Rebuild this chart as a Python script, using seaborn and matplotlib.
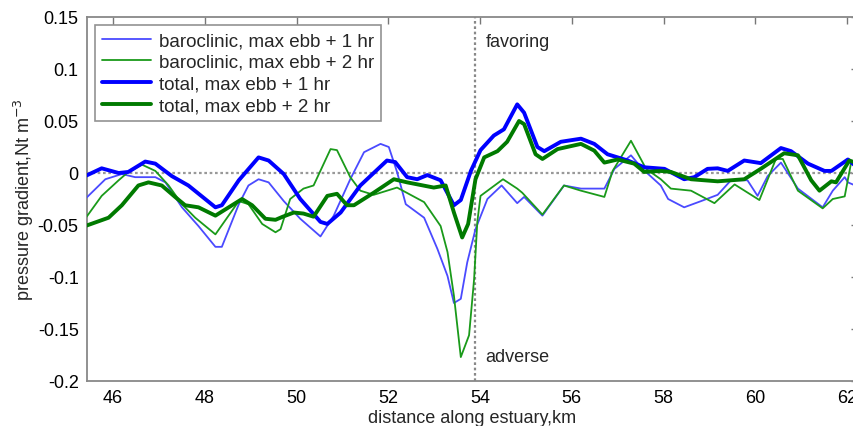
import numpy as np
import matplotlib
matplotlib.use("Agg")
import matplotlib.pyplot as plt
import seaborn as sns
import pandas as pd

# baroclinic, max ebb + 1 hr (thin blue)
bc1_x = [45.39, 45.83, 46.19, 46.48, 46.92, 47.14, 47.50, 47.86, 48.23, 48.37, 48.74, 48.95, 49.17, 49.39,
         49.72, 50.08, 50.52, 50.81, 51.17, 51.47, 51.83, 52.01, 52.19, 52.38, 52.78, 53.07, 53.29, 53.43,
         53.58, 53.72, 53.90, 54.16, 54.47, 54.81, 54.96, 55.36, 55.83, 56.20, 56.71, 56.93, 57.29, 57.54,
         57.94, 58.10, 58.45, 58.82, 59.18, 59.47, 59.83, 60.05, 60.27, 60.56, 60.93, 61.47, 61.69, 61.95,
         62.02, 62.18]
bc1_y = [-0.025, -0.006, -0.001, -0.004, -0.004, -0.009, -0.033, -0.051, -0.071, -0.071, -0.030, -0.012,
         -0.006, -0.009, -0.027, -0.044, -0.061, -0.041, -0.006, 0.020, 0.028, 0.025, 0.001, -0.030, -0.043,
         -0.073, -0.099, -0.125, -0.121, -0.086, -0.054, -0.025, -0.012, -0.029, -0.023, -0.041, -0.012,
         -0.015, -0.015, 0.004, 0.017, 0.004, -0.012, -0.025, -0.033, -0.027, -0.021, -0.007, -0.007, -0.022,
         -0.003, 0.010, -0.015, -0.033, -0.017, -0.004, -0.009, -0.012]

# baroclinic, max ebb + 2 hr (thin green)
bc2_x = [45.39, 45.75, 46.12, 46.33, 46.63, 46.92, 47.21, 47.50, 47.79, 48.23, 48.74, 48.95, 49.25, 49.54,
         49.65, 49.86, 50.15, 50.37, 50.74, 50.88, 51.17, 51.39, 51.68, 52.19, 52.78, 53.14, 53.29, 53.43,
         53.58, 53.76, 53.87, 53.94, 54.01, 54.50, 54.81, 54.92, 55.36, 55.83, 56.20, 56.71, 56.89, 57.29,
         57.62, 57.94, 58.16, 58.60, 59.11, 59.55, 60.09, 60.45, 60.60, 60.93, 61.47, 61.69, 61.95, 62.09,
         62.18]
bc2_y = [-0.044, -0.022, -0.007, 0.001, 0.008, 0.002, -0.012, -0.030, -0.043, -0.059, -0.027, -0.030,
         -0.049, -0.057, -0.054, -0.025, -0.015, -0.012, 0.023, 0.022, -0.004, -0.017, -0.021, -0.014,
         -0.028, -0.051, -0.076, -0.118, -0.177, -0.156, -0.102, -0.047, -0.022, -0.006, -0.015, -0.019,
         -0.040, -0.012, -0.017, -0.023, 0.002, 0.031, 0.004, -0.006, -0.015, -0.017, -0.029, -0.011, -0.026,
         0.0135, 0.0135, -0.017, -0.034, -0.025, -0.0225, 0.010, 0.012]

# total, max ebb + 1 hr (thick blue)
tot1_x = [45.39, 45.75, 46.12, 46.33, 46.70, 46.92, 47.28, 47.64, 48.23, 48.37, 48.74, 49.17, 49.39, 49.72,
          50.08, 50.52, 50.67, 50.96, 51.39, 51.97, 52.15, 52.41, 52.63, 52.85, 53.14, 53.43, 53.58, 53.80,
          54.01, 54.30, 54.52, 54.81, 54.96, 55.25, 55.40, 55.76, 56.20, 56.49, 56.78, 57.22, 57.58, 58.02,
          58.45, 58.67, 58.96, 59.18, 59.40, 59.76, 60.12, 60.56, 60.78, 61.15, 61.51, 61.66, 62.02, 62.18]
tot1_y = [-0.003, 0.0045, 0.000, 0.001, 0.011, 0.009, -0.003, -0.012, -0.033, -0.031, -0.007, 0.015, 0.012,
          -0.001, -0.025, -0.047, -0.049, -0.038, -0.012, 0.012, 0.0105, -0.004, -0.006, -0.002, -0.007,
          -0.031, -0.026, 0.002, 0.022, 0.036, 0.042, 0.066, 0.058, 0.025, 0.021, 0.030, 0.033, 0.028, 0.018,
          0.012, 0.0055, 0.004, -0.006, -0.004, 0.004, 0.0045, 0.002, 0.012, 0.0095, 0.024, 0.021, 0.009,
          0.002, 0.002, 0.013, 0.007]

# total, max ebb + 2 hr (thick green)
tot2_x = [45.39, 45.90, 46.19, 46.55, 46.77, 47.06, 47.35, 47.57, 47.86, 48.23, 48.52, 48.81, 49.03, 49.32,
          49.54, 49.70, 49.94, 50.15, 50.37, 50.67, 50.88, 51.10, 51.25, 51.68, 52.12, 52.41, 52.99, 53.25,
          53.43, 53.61, 53.74, 53.90, 54.09, 54.38, 54.59, 54.85, 54.96, 55.21, 55.36, 55.69, 56.20, 56.49,
          56.71, 57.00, 57.36, 57.58, 57.94, 58.16, 58.60, 59.18, 59.76, 60.12, 60.63, 60.93, 61.22, 61.40,
          61.66, 61.76, 62.05, 62.18]
tot2_y = [-0.051, -0.043, -0.031, -0.012, -0.009, -0.012, -0.023, -0.031, -0.033, -0.041, -0.033, -0.025,
          -0.031, -0.044, -0.045, -0.042, -0.038, -0.039, -0.042, -0.022, -0.020, -0.031, -0.031, -0.019,
          -0.006, -0.009, -0.014, -0.012, -0.038, -0.062, -0.049, -0.006, 0.015, 0.021, 0.030, 0.050, 0.047,
          0.018, 0.0135, 0.023, 0.028, 0.0215, 0.010, 0.013, 0.009, 0.001, 0.002, 0.001, -0.006, -0.008,
          -0.006, 0.004, 0.019, 0.017, -0.007, -0.017, -0.008, -0.009, 0.012, 0.010]

labels = ["baroclinic, max ebb + 1 hr", "baroclinic, max ebb + 2 hr",
          "total, max ebb + 1 hr", "total, max ebb + 2 hr"]
y_ticks = [0.15, 0.1, 0.05, 0, -0.05, -0.1, -0.15, -0.2]
x_ticks = [46, 48, 50, 52, 54, 56, 58, 60, 62]
front_x = 53.9

sns.set_style("white")
plt.rcParams["font.family"] = ["Liberation Sans", "DejaVu Sans"]
plt.rcParams["font.size"] = 10.5

fig = plt.figure(figsize=(8.54, 4.27), dpi=100)
ax = fig.add_axes([87 / 854, 45 / 427, (858 - 87) / 854, 364 / 427])

ax.axhline(0, color="#999999", ls=(0, (1.2, 1.2)), lw=1.6, zorder=1)
ax.axvline(front_x, color="#888888", ls=(0, (1.2, 1.2)), lw=1.6, zorder=1)

series = [(bc1_x, bc1_y, "#4a4aff", 1.3), (bc2_x, bc2_y, "#1a9a1a", 1.3),
          (tot1_x, tot1_y, "#0000ff", 2.8), (tot2_x, tot2_y, "#007a00", 2.8)]
for (xs, ys, col, lw), lab in zip(series, labels):
    df = pd.DataFrame({"x": xs, "y": ys})
    sns.lineplot(data=df, x="x", y="y", ax=ax, color=col, lw=lw, label=lab,
                 estimator=None, sort=False, zorder=3)

ax.set_xlim(45.43, 62.24)
ax.set_ylim(-0.2, 0.15)
ax.set_xticks(x_ticks)
ax.set_yticks(y_ticks)
ax.set_yticklabels(["0.15", "0.1", "0.05", "0", "-0.05", "-0.1", "-0.15", "-0.2"])
ax.tick_params(direction="in", length=5, width=1, color="#777777", top=True, right=True,
               labelsize=13, pad=6, labelcolor="black")
for s in ax.spines.values():
    s.set_color("#888888")
    s.set_linewidth(1.3)

ax.set_xlabel("distance along estuary,km", fontsize=13, labelpad=2)
ax.set_ylabel("pressure gradient,Nt m$^{-3}$", fontsize=13, labelpad=1)

ax.text(54.12, 0.126, "favoring", fontsize=13, va="center", ha="left")
ax.text(54.12, -0.176, "adverse", fontsize=13, va="center", ha="left")

leg = ax.legend(loc="upper left", fontsize=13.5, handlelength=2.6, frameon=True, fancybox=False,
                borderaxespad=0.45, labelspacing=0.25, handletextpad=0.45, borderpad=0.35)
leg.get_frame().set_edgecolor("#777777")
leg.get_frame().set_linewidth(1.2)

fig.savefig("out.png", dpi=100)
